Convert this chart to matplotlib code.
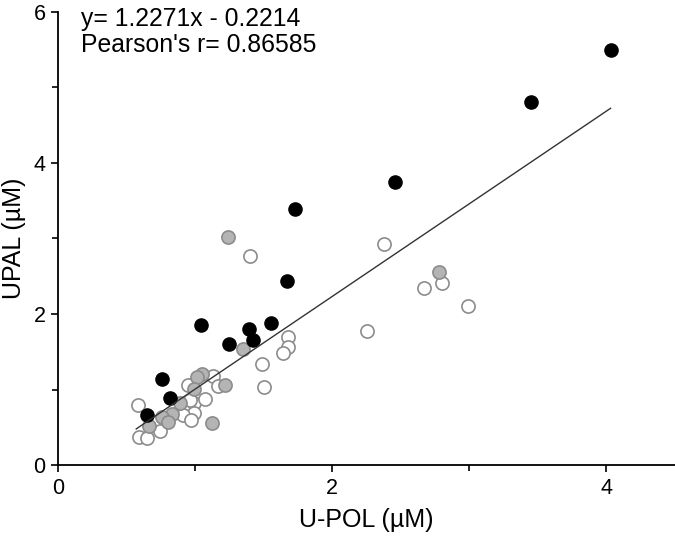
import numpy as np
import matplotlib.pyplot as plt
from matplotlib.ticker import MultipleLocator

plt.rcParams['font.family'] = ['Liberation Sans', 'DejaVu Sans']

# black points
x_black = [4.03, 3.45, 2.46, 1.73, 1.67, 1.55, 1.39, 1.42, 1.25, 1.04, 0.76, 0.82, 0.65]
y_black = [5.50, 4.81, 3.75, 3.39, 2.44, 1.88, 1.80, 1.66, 1.60, 1.85, 1.14, 0.89, 0.66]

# grey points
x_grey = [1.24, 2.78, 1.35, 1.05, 1.01, 1.22, 0.99, 0.89, 0.83, 0.76, 0.80, 0.66, 1.12]
y_grey = [3.02, 2.56, 1.54, 1.21, 1.17, 1.06, 1.01, 0.82, 0.68, 0.64, 0.57, 0.52, 0.56]

# open points
x_open = [1.40, 2.38, 2.25, 2.67, 2.80, 2.99, 1.68, 1.68, 1.64, 1.49, 1.50,
          0.58, 0.59, 0.65, 0.74, 1.13, 0.95, 1.17, 0.99, 1.07, 0.96, 0.99,
          0.91, 0.97]
y_open = [2.77, 2.93, 1.77, 2.34, 2.41, 2.11, 1.70, 1.56, 1.48, 1.34, 1.03,
          0.79, 0.37, 0.36, 0.45, 1.18, 1.06, 1.05, 0.82, 0.87, 0.86, 0.69,
          0.66, 0.60]

slope = 1.2271
intercept = -0.2214
fit_x = [0.57, 4.03]

fig = plt.figure(figsize=(6.75, 5.42), dpi=100)
ax = fig.add_axes([0.086, 0.142, 0.914, 0.836])

ms = 90
ax.scatter(x_open, y_open, s=ms, facecolor='white', edgecolor='#8c8c8c', linewidth=1.2, zorder=2)
ax.scatter(x_grey, y_grey, s=ms, facecolor='#b4b4b4', edgecolor='#8c8c8c', linewidth=1.2, zorder=3)
ax.scatter(x_black, y_black, s=ms, facecolor='black', edgecolor='black', linewidth=1.0, zorder=4)

fx = np.array(fit_x)
ax.plot(fx, slope * fx + intercept, color='#333333', linewidth=1.0, zorder=5)

ax.set_xlim(0, 4.5)
ax.set_ylim(0, 6)
ax.xaxis.set_major_locator(MultipleLocator(2))
ax.xaxis.set_minor_locator(MultipleLocator(1))
ax.yaxis.set_major_locator(MultipleLocator(2))
ax.yaxis.set_minor_locator(MultipleLocator(1))
ax.tick_params(which='major', direction='out', length=5, width=1.2, labelsize=15.5, pad=4)
ax.tick_params(which='minor', direction='out', length=4, width=1.2)

for s in ['top', 'right']:
    ax.spines[s].set_visible(False)
for s in ['left', 'bottom']:
    ax.spines[s].set_linewidth(1.3)

ax.set_xlabel('U-POL (µM)', fontsize=18, labelpad=7)
ax.set_ylabel('UPAL (µM)', fontsize=18, labelpad=5)

ax.text(0.038, 1.01, 'y= 1.2271x - 0.2214\nPearson\'s r= 0.86585', transform=ax.transAxes,
        fontsize=17.8, va='top', ha='left', linespacing=1.08)

fig.savefig('out.png', dpi=100)
